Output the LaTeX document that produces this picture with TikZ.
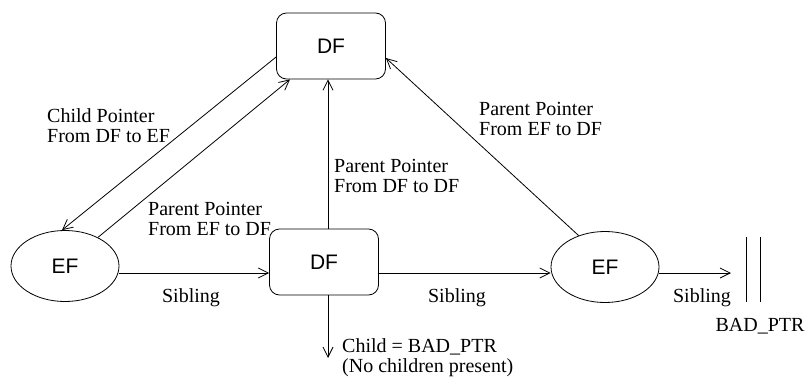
\documentclass[tikz,border=0pt]{standalone}
\usepackage{fontspec}
\setmainfont{Liberation Serif}
\setsansfont{Liberation Sans}
\usetikzlibrary{arrows.meta, positioning, shapes.geometric}

\begin{document}
\begin{tikzpicture}[
    x=1pt, y=-1pt,
    dfbox/.style={draw, rounded corners=10pt, minimum width=109pt, minimum height=66pt, line width=0.8pt, font=\sffamily\fontsize{21}{21}\selectfont},
    efnode/.style={draw, ellipse, minimum width=108pt, minimum height=71pt, inner sep=0pt, line width=0.8pt, font=\sffamily\fontsize{21}{21}\selectfont},
    lbl/.style={font=\fontsize{20}{20}\selectfont, align=left, inner sep=0pt},
    ptr/.style={-{Straight Barb[length=10pt, width=10pt]}, line width=0.8pt},
]
    \useasboundingbox (0,0) rectangle (805,378);

    % frames
    \node[dfbox] (dftop) at (331,46) {DF};
    \node[dfbox] (dfmid) at (324,262) {DF};
    \node[efnode] (efleft) at (65,266) {EF};
    \node[efnode] (efright) at (605,267) {EF};

    % free ends
    \coordinate (sib) at (0,273);
    \coordinate (sibend) at (731,273);
    \coordinate (bad1) at (746,237);
    \coordinate (bad2) at (760,237);
    \coordinate (nochild) at (328,358);

    % sibling chain
    \draw[ptr] (efleft.east |- sib) -- (dfmid.west |- sib);
    \draw[ptr] (dfmid.east |- sib) -- (efright.west |- sib);
    \draw[ptr] (efright.east |- sib) -- (sibend);
    \draw[line width=0.8pt] (bad1) -- ++(0,65);
    \draw[line width=0.8pt] (bad2) -- ++(0,65);

    % parent / child pointers
    \draw[ptr] ([yshift=-11pt]dftop.west) -- ([xshift=-3pt]efleft.north);
    \draw[ptr] (efleft.41) -- ([xshift=-41pt]dftop.south);
    \draw[ptr] ([xshift=4pt]dfmid.north) -- ([xshift=4pt]dfmid.north |- dftop.south);
    \draw[ptr] (efright.130) -- ([yshift=-12pt]dftop.east);
    \draw[ptr] ([xshift=4pt]dfmid.south) -- (nochild);

    % labels
    \node[lbl, anchor=north west] (lblchild) at (47,108) {Child Pointer\\From DF to EF};
    \node[lbl, anchor=north west] (lblefdf) at (148,202) {Parent Pointer\\From EF to DF};
    \node[lbl, anchor=north west] (lbldfdf) at (334,159) {Parent Pointer\\From DF to DF};
    \node[lbl, anchor=north west] (lblright) at (479,102) {Parent Pointer\\From EF to DF};
    \node[lbl, anchor=north west] (lblnone) at (342,338) {Child = BAD\_PTR\\(No children present)};
    \node[lbl, anchor=north] (sib1) at (191,288) {Sibling};
    \node[lbl, anchor=north] (sib2) at (457,288) {Sibling};
    \node[lbl, anchor=north] (sib3) at (702,288) {Sibling};
    \node[lbl, anchor=north] (badptr) at (760,318) {BAD\_PTR};
\end{tikzpicture}
\end{document}
